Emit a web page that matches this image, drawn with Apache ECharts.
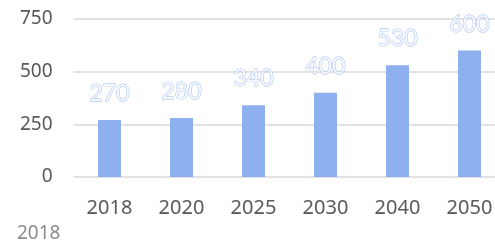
<!DOCTYPE html>
<html>
<head>
<meta charset="utf-8">
<script src="https://cdn.jsdelivr.net/npm/echarts@6/dist/echarts.min.js"></script>
<style>
  html, body { margin: 0; padding: 0; background: #fff; }
  #chart { width: 495px; height: 244px; }
</style>
</head>
<body>
<div id="chart"></div>
<script>
const years = ['2018', '2020', '2025', '2030', '2040', '2050'];
const values = [270, 280, 340, 400, 530, 600];
const yTicks = [0, 250, 500, 750];

const chart = echarts.init(document.getElementById('chart'));

const option = {
  animation: false,
  // plot runs past the right edge, like the source
  grid: { left: 73.5, width: 432, top: 19, bottom: 67, containLabel: false, outerBoundsMode: 'none' },
  xAxis: {
    type: 'category',
    data: years,
    axisLine: { show: false },
    axisTick: { show: false },
    axisLabel: {
      color: '#595959',
      fontFamily: 'Noto Sans',
      fontSize: 20,
      margin: 21
    }
  },
  yAxis: {
    type: 'value',
    min: yTicks[0],
    max: yTicks[yTicks.length - 1],
    interval: 250,
    axisLine: { show: false },
    axisTick: { show: false },
    splitLine: { lineStyle: { color: '#d9d9d9', width: 1.5 } },
    axisLabel: {
      color: '#595959',
      fontFamily: 'Noto Sans',
      fontSize: 19,
      margin: 21
    }
  },
  series: [
    {
      type: 'bar',
      data: values,
      barWidth: 23,
      itemStyle: { color: '#8eb0f0' },
      label: {
        show: true,
        position: 'top',
        distance: 15,
        fontFamily: 'Lato',
        fontSize: 23,
        color: '#f5f8fe',
        textBorderColor: '#9bb9f2',
        textBorderWidth: 0.9
      }
    }
  ],
  graphic: [
    {
      type: 'text',
      left: 17,
      top: 224,
      style: {
        text: '2018',
        fill: '#8c8c8c',
        fontFamily: 'Noto Sans',
        fontSize: 19
      }
    }
  ]
};

chart.setOption(option);
</script>
</body>
</html>
